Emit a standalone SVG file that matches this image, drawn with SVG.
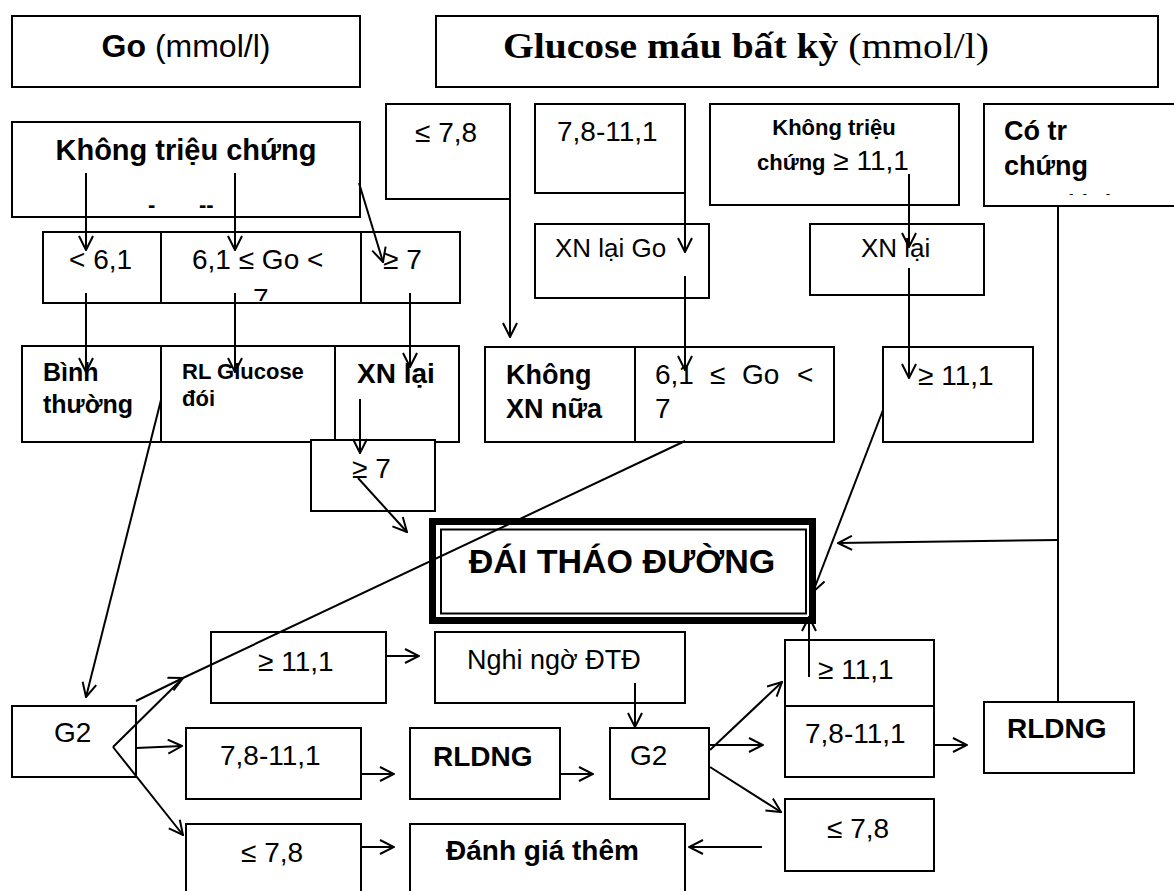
<svg xmlns="http://www.w3.org/2000/svg" width="1174" height="891" viewBox="0 0 1174 891">
<style>
.box{fill:#fff;stroke:#000;stroke-width:2}
.t{font-family:"Liberation Sans",Arial,sans-serif;font-size:28px;fill:#000}
.b{font-weight:bold}
.c{stroke:#000;stroke-width:2;fill:none}
.a{marker-end:url(#arr)}
</style>
<defs>
<marker id="arr" viewBox="0 0 16 16" refX="15" refY="8" markerWidth="16" markerHeight="16" markerUnits="userSpaceOnUse" orient="auto">
<path d="M1,1 L15,8 L1,15" fill="none" stroke="#000" stroke-width="2"/>
</marker>
<clipPath id="clip7"><rect x="161" y="232" width="200" height="69"/></clipPath>
<clipPath id="clipCo"><rect x="984" y="104" width="190" height="91"/></clipPath>
</defs>
<rect width="1174" height="891" fill="#fff"/>

<g id="go-header">
<rect class="box" x="12" y="16" width="348" height="71"/>
<text class="t" x="186" y="57" text-anchor="middle" style="font-size:32px"><tspan class="b">Go</tspan> (mmol/l)</text>
</g>
<g id="glucose-header">
<rect class="box" x="436" y="16" width="722" height="71"/>
<text x="503" y="58" textLength="486" lengthAdjust="spacingAndGlyphs" style="font-family:'Liberation Serif','Times New Roman',serif;font-size:35px"><tspan font-weight="bold">Glucose máu bất kỳ</tspan> (mmol/l)</text>
</g>
<g id="khong-trieu-chung-left">
<rect class="box" x="12" y="122" width="348" height="95"/>
<text class="t b" x="186" y="160" text-anchor="middle" style="font-size:29px">Không triệu chứng</text>
<text class="t b" x="148" y="212" style="font-size:22px">-</text>
<text class="t b" x="199" y="212" style="font-size:22px">--</text>
</g>
<g id="le78-top">
<rect class="box" x="386" y="104" width="124" height="95"/>
<text class="t" x="415" y="142">≤ 7,8</text>
</g>
<g id="r78-top">
<rect class="box" x="535" y="104" width="150" height="89"/>
<text class="t" x="557" y="141">7,8-11,1</text>
</g>
<g id="khong-trieu-chung-right">
<rect class="box" x="710" y="104" width="249" height="101"/>
<text class="t b" x="834" y="135" text-anchor="middle" style="font-size:22px">Không triệu</text>
<text class="t" x="833" y="170" text-anchor="middle"><tspan class="b" style="font-size:22px">chứng</tspan> ≥ 11,1</text>
</g>
<g id="co-trieu-chung">
<rect class="box" x="984" y="104" width="200" height="102"/>
<text class="t b" x="1004" y="140" style="font-size:27px">Có tr</text>
<text class="t b" x="1004" y="175" style="font-size:27px">chứng</text>
<text class="t" x="1040" y="213" clip-path="url(#clipCo)">≥ 11,1</text>
</g>
<g id="xn-lai-go">
<rect class="box" x="535" y="224" width="174" height="74"/>
<text class="t" x="555" y="257" style="font-size:26px">XN lại Go</text>
</g>
<g id="xn-lai-right">
<rect class="box" x="810" y="224" width="174" height="71"/>
<text class="t" x="861" y="257" style="font-size:26px">XN lại</text>
</g>
<g id="go-ranges">
<rect class="box" x="43" y="232" width="417" height="71"/>
<line class="c" x1="161" y1="232" x2="161" y2="303"/>
<line class="c" x1="361" y1="232" x2="361" y2="303"/>
<text class="t" x="69" y="269">&lt; 6,1</text>
<text class="t" x="192" y="269">6,1 ≤ Go &lt;</text>
<text class="t" x="253" y="308" clip-path="url(#clip7)">7</text>
<text class="t" x="383" y="269">≥ 7</text>
</g>
<g id="go-results">
<rect class="box" x="22" y="346" width="437" height="96"/>
<line class="c" x1="161" y1="346" x2="161" y2="442"/>
<line class="c" x1="335" y1="346" x2="335" y2="442"/>
<text class="t b" x="43" y="381" style="font-size:25px">Bình</text>
<text class="t b" x="43" y="413" style="font-size:25px">thường</text>
<text class="t b" x="182" y="379" style="font-size:22px">RL Glucose</text>
<text class="t b" x="182" y="406" style="font-size:22px">đói</text>
<text class="t b" x="357" y="383">XN lại</text>
</g>
<g id="ge7-retest">
<rect class="box" x="311" y="440" width="124" height="71"/>
<text class="t" x="352" y="478">≥ 7</text>
</g>
<g id="khong-xn-nua">
<rect class="box" x="485" y="347" width="150" height="95"/>
<text class="t b" x="506" y="384" style="font-size:27px">Không</text>
<text class="t b" x="506" y="418" style="font-size:27px">XN nữa</text>
</g>
<g id="go-range-mid">
<rect class="box" x="635" y="347" width="199" height="95"/>
<text class="t" y="384"><tspan x="655">6,1</tspan><tspan x="710">≤</tspan><tspan x="742">Go</tspan><tspan x="797">&lt;</tspan></text>
<text class="t" x="655" y="418">7</text>
</g>
<g id="ge111-mid">
<rect class="box" x="883" y="347" width="150" height="95"/>
<text class="t" x="918" y="385">≥ 11,1</text>
</g>
<g id="dai-thao-duong">
<rect x="432.5" y="521.5" width="380" height="99" fill="#fff" stroke="#000" stroke-width="7"/>
<rect x="441" y="529.5" width="365" height="84" fill="none" stroke="#000" stroke-width="2"/>
<text class="t b" x="622" y="573" text-anchor="middle" style="font-size:34px">ĐÁI THÁO ĐƯỜNG</text>
</g>
<g id="g2-left">
<rect class="box" x="12" y="706" width="124" height="71"/>
<text class="t" x="54" y="742">G2</text>
</g>
<g id="ge111-b">
<rect class="box" x="211" y="632" width="175" height="71"/>
<text class="t" x="258" y="671">≥ 11,1</text>
</g>
<g id="r78-b">
<rect class="box" x="186" y="728" width="175" height="71"/>
<text class="t" x="220" y="765">7,8-11,1</text>
</g>
<g id="le78-b">
<rect class="box" x="186" y="824" width="175" height="80"/>
<text class="t" x="241" y="862">≤ 7,8</text>
</g>
<g id="nghi-ngo">
<rect class="box" x="435" y="632" width="250" height="71"/>
<text class="t" x="467" y="669" style="font-size:27px">Nghi ngờ ĐTĐ</text>
</g>
<g id="rldng-mid">
<rect class="box" x="410" y="728" width="150" height="71"/>
<text class="t b" x="433" y="766">RLDNG</text>
</g>
<g id="danh-gia-them">
<rect class="box" x="410" y="824" width="275" height="80"/>
<text class="t b" x="446" y="860">Đánh giá thêm</text>
</g>
<g id="g2-mid">
<rect class="box" x="610" y="728" width="99" height="71"/>
<text class="t" x="630" y="765">G2</text>
</g>
<g id="ge111-r">
<rect class="box" x="785" y="640" width="149" height="66"/>
<text class="t" x="818" y="679">≥ 11,1</text>
</g>
<g id="r78-r">
<rect class="box" x="785" y="706" width="149" height="71"/>
<text class="t" x="805" y="743">7,8-11,1</text>
</g>
<g id="le78-r">
<rect class="box" x="785" y="799" width="149" height="72"/>
<text class="t" x="827" y="838">≤ 7,8</text>
</g>
<g id="rldng-r">
<rect class="box" x="984" y="702" width="150" height="71"/>
<text class="t b" x="1007" y="738">RLDNG</text>
</g>

<g id="connectors">
<line class="c a" x1="86" y1="173" x2="86" y2="250"/>
<line class="c a" x1="235" y1="173" x2="235" y2="250"/>
<line class="c a" x1="359" y1="183" x2="383" y2="262"/>
<line class="c a" x1="86" y1="293" x2="86" y2="372"/>
<line class="c a" x1="235" y1="293" x2="235" y2="372"/>
<line class="c a" x1="410" y1="293" x2="410" y2="367"/>
<line class="c a" x1="360" y1="399" x2="360" y2="453"/>
<line class="c a" x1="358" y1="478" x2="407" y2="532"/>
<line class="c a" x1="161" y1="400" x2="86" y2="697"/>
<line class="c a" x1="510" y1="199" x2="510" y2="337"/>
<line class="c a" x1="685" y1="173" x2="685" y2="252"/>
<line class="c a" x1="685" y1="276" x2="685" y2="370"/>
<line class="c a" x1="909" y1="174" x2="909" y2="247"/>
<line class="c a" x1="909" y1="268" x2="909" y2="378"/>
<line class="c" x1="685" y1="441" x2="183" y2="678"/>
<line class="c a" x1="136" y1="701" x2="183" y2="678"/>
<line class="c" x1="113" y1="747" x2="183" y2="678"/>
<line class="c a" x1="136" y1="748" x2="182" y2="746"/>
<line class="c a" x1="113" y1="747" x2="183" y2="835"/>
<line class="c a" x1="386" y1="656" x2="419" y2="656"/>
<line class="c a" x1="361" y1="774" x2="394" y2="774"/>
<line class="c a" x1="361" y1="847" x2="394" y2="847"/>
<line class="c a" x1="635" y1="683" x2="635" y2="727"/>
<line class="c a" x1="560" y1="774" x2="593" y2="774"/>
<line class="c a" x1="762" y1="847" x2="689" y2="847"/>
<line class="c a" x1="710" y1="750" x2="782" y2="682"/>
<line class="c a" x1="710" y1="745" x2="763" y2="745"/>
<line class="c a" x1="710" y1="767" x2="781" y2="812"/>
<line class="c a" x1="809" y1="677" x2="809" y2="617"/>
<line class="c a" x1="934" y1="745" x2="967" y2="745"/>
<line class="c" x1="1058" y1="206" x2="1058" y2="702"/>
<line class="c a" x1="1058" y1="540" x2="838" y2="543"/>
<line class="c a" x1="883" y1="410" x2="813" y2="592"/>
</g>
</svg>
